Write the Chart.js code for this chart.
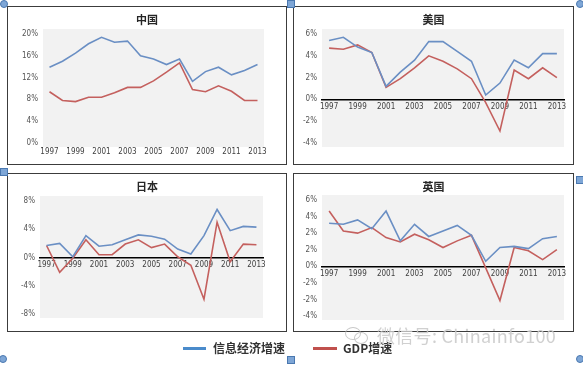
<!DOCTYPE html>
<html>
<head>
<meta charset="utf-8">
<script src="https://cdn.jsdelivr.net/npm/chart.js@4.4.1/dist/chart.umd.min.js"></script>
<style>
body { margin: 0; width: 583px; height: 365px; background: #fff; position: relative; overflow: hidden; font-family: "Noto Sans CJK SC", sans-serif; }
.painel { position: absolute; }
.painel canvas { position: absolute; left: 0; top: 0; }
.moldura { position: absolute; left: 0; top: 0; right: 0; bottom: 0; border: 1.5px solid #3c3c3c; box-sizing: border-box; pointer-events: none; }
.titulo { position: absolute; left: 0; right: 0; top: 6px; text-align: center; font-weight: bold; font-size: 11px; color: #262626; line-height: 14px; }
.legenda-linha { position: absolute; height: 3px; top: 347px; }
.legenda-texto { position: absolute; top: 340px; font-size: 12px; font-weight: bold; color: #333; line-height: 16px; }
.marca { position: absolute; left: 377px; top: 325px; font-size: 18px; line-height: 20px; color: rgba(200,200,200,0.85); letter-spacing: 0.3px; z-index: 5; }
.icone { position: absolute; border: 1.3px solid rgba(190,190,190,0.85); border-radius: 50%; z-index: 5; }
.pega { position: absolute; width: 6px; height: 6px; background: #7ea6d6; border: 1px solid #4a78b0; z-index: 6; }
.pega.redonda { border-radius: 50%; }
</style>
</head>
<body>

<div class="painel" id="p-china" style="left:7px;top:6px;width:280px;height:159px">
  <canvas id="chartChina" width="280" height="159"></canvas>
  <div class="titulo">中国</div>
  <div class="moldura"></div>
</div>
<div class="painel" id="p-eua" style="left:293px;top:6px;width:281px;height:159px">
  <canvas id="chartEua" width="281" height="159"></canvas>
  <div class="titulo">美国</div>
  <div class="moldura"></div>
</div>
<div class="painel" id="p-japao" style="left:7px;top:173px;width:280px;height:159px">
  <canvas id="chartJapao" width="280" height="159"></canvas>
  <div class="titulo">日本</div>
  <div class="moldura"></div>
</div>
<div class="painel" id="p-uk" style="left:293px;top:173px;width:281px;height:159px">
  <canvas id="chartUk" width="281" height="159"></canvas>
  <div class="titulo">英国</div>
  <div class="moldura"></div>
</div>

<!-- legenda comum -->
<div class="legenda-linha" style="left:183px;width:23px;background:#4a8bcb"></div>
<div class="legenda-texto" style="left:213px">信息经济增速</div>
<div class="legenda-linha" style="left:313px;width:24px;background:#c0504d"></div>
<div class="legenda-texto" style="left:343px">GDP增速</div>

<!-- marca de água -->
<div class="icone" style="left:345px;top:327px;width:14px;height:11px"></div>
<div class="icone" style="left:354px;top:332px;width:12px;height:10px"></div>
<div class="marca">微信号: Chinainfo100</div>

<!-- pegas de seleção -->
<div class="pega redonda" style="left:0px;top:0px"></div>
<div class="pega" style="left:287px;top:0px"></div>
<div class="pega redonda" style="left:576px;top:0px"></div>
<div class="pega" style="left:0px;top:168px"></div>
<div class="pega" style="left:576px;top:176px"></div>
<div class="pega redonda" style="left:-1px;top:355px"></div>
<div class="pega" style="left:287px;top:356px"></div>
<div class="pega redonda" style="left:576px;top:355px"></div>

<script>
const anos = ['1997','1998','1999','2000','2001','2002','2003','2004','2005','2006','2007','2008','2009','2010','2011','2012','2013'];

// valores (%)
const chinaInfo = [13.9, 15.0, 16.5, 18.2, 19.4, 18.5, 18.7, 16.0, 15.4, 14.4, 15.4, 11.3, 13.1, 13.9, 12.5, 13.3, 14.4];
const chinaGdp  = [9.4, 7.8, 7.6, 8.4, 8.4, 9.2, 10.2, 10.2, 11.4, 13.0, 14.7, 9.8, 9.4, 10.5, 9.5, 7.8, 7.8];

const euaInfo = [5.4, 5.7, 4.8, 4.3, 1.2, 2.5, 3.6, 5.3, 5.3, 4.4, 3.5, 0.4, 1.5, 3.6, 2.9, 4.2, 4.2];
const euaGdp  = [4.7, 4.6, 5.0, 4.3, 1.1, 1.9, 2.9, 4.0, 3.5, 2.8, 1.9, -0.3, -2.9, 2.7, 1.9, 2.9, 2.0];

const japaoInfo = [1.7, 2.0, 0.1, 3.1, 1.6, 1.8, 2.5, 3.2, 3.0, 2.6, 1.2, 0.5, 3.1, 6.8, 3.8, 4.4, 4.3];
const japaoGdp  = [1.7, -2.1, -0.1, 2.5, 0.4, 0.4, 1.9, 2.5, 1.4, 1.9, 0.1, -1.1, -5.9, 5.0, -0.6, 1.9, 1.8];

const ukInfo = [3.9, 3.8, 4.2, 3.4, 5.0, 2.3, 3.8, 2.7, 3.2, 3.7, 2.8, 0.45, 1.7, 1.8, 1.6, 2.5, 2.7];
const ukGdp  = [5.0, 3.2, 3.0, 3.5, 2.6, 2.2, 2.9, 2.4, 1.7, 2.3, 2.8, -0.15, -3.1, 1.7, 1.4, 0.6, 1.5];

// rótulos do eixo Y, de cima para baixo (tal como aparecem)
const ticksChina = ['20%', '16%', '12%', '8%', '4%', '0%'];
const ticksEua   = ['6%', '4%', '2%', '0%', '-2%', '-4%'];
const ticksJapao = ['8%', '4%', '0%', '-4%', '-8%'];
const ticksUk    = ['6%', '4%', '2%', '2%', '0%', '-2%', '-2%', '-4%'];

const COR_INFO = '#6a8fc4';
const COR_GDP = '#c4605e';
const fonteEixo = { family: "'Liberation Sans Narrow', 'DejaVu Sans Condensed', 'Liberation Sans', sans-serif", size: 8 };

// fundo cinzento da área do gráfico
const fundoCinza = {
    id: 'fundoCinza',
    beforeDraw(chart) {
        const { ctx, chartArea: a } = chart;
        ctx.save();
        ctx.fillStyle = '#f2f2f2';
        ctx.fillRect(a.left, a.top - 5, a.right - a.left, a.bottom - a.top + 9);
        ctx.restore();
    }
};

function criarPainel(id, info, gdp, rotulos, esc, area) {
    const canvas = document.getElementById(id);
    const eixoZero = esc.min < 0;
    return new Chart(canvas, {
        type: 'line',
        data: {
            labels: anos,
            datasets: [
                { data: info, borderColor: COR_INFO, borderWidth: 1.6, pointRadius: 0, tension: 0 },
                { data: gdp, borderColor: COR_GDP, borderWidth: 1.6, pointRadius: 0, tension: 0 }
            ]
        },
        options: {
            responsive: false,
            animation: false,
            layout: {
                padding: {
                    left: 0,
                    top: area.top,
                    right: canvas.width - area.right,
                    bottom: eixoZero ? canvas.height - area.bottom : canvas.height - area.bottom - 20
                }
            },
            plugins: { legend: { display: false }, tooltip: { enabled: false } },
            scales: {
                x: {
                    offset: true,
                    position: eixoZero ? { y: 0 } : 'bottom',
                    grid: { display: false, drawTicks: false },
                    border: eixoZero ? { display: true, color: '#000', width: 1.5, dash: [3, 2] } : { display: false },
                    ticks: {
                        autoSkip: false, maxRotation: 0, minRotation: 0,
                        padding: eixoZero ? 3 : 4,
                        color: '#404040', font: fonteEixo,
                        callback: (v, i) => (i % 2 === 0 ? anos[i] : '')
                    },
                    afterFit: (s) => { if (!eixoZero) s.height = 20; }
                },
                y: {
                    min: esc.min, max: esc.max,
                    grid: { display: false, drawTicks: false },
                    border: { display: false },
                    ticks: {
                        stepSize: esc.passo, padding: 5,
                        color: '#555', font: fonteEixo,
                        callback: (v, i) => rotulos[rotulos.length - 1 - i]
                    },
                    afterFit: (s) => { s.width = area.left; }
                }
            }
        },
        plugins: [fundoCinza]
    });
}

criarPainel('chartChina', chinaInfo, chinaGdp, ticksChina, { min: 0, max: 20, passo: 4 }, { left: 36, right: 257, top: 28, bottom: 137 });
criarPainel('chartEua', euaInfo, euaGdp, ticksEua, { min: -4, max: 6, passo: 2 }, { left: 29, right: 271, top: 28, bottom: 137 });
criarPainel('chartJapao', japaoInfo, japaoGdp, ticksJapao, { min: -8, max: 8, passo: 4 }, { left: 33, right: 256, top: 28, bottom: 141 });
criarPainel('chartUk', ukInfo, ukGdp, ticksUk, { min: -4.5, max: 6, passo: 1.5 }, { left: 29, right: 271, top: 27, bottom: 143 });
</script>
</body>
</html>
